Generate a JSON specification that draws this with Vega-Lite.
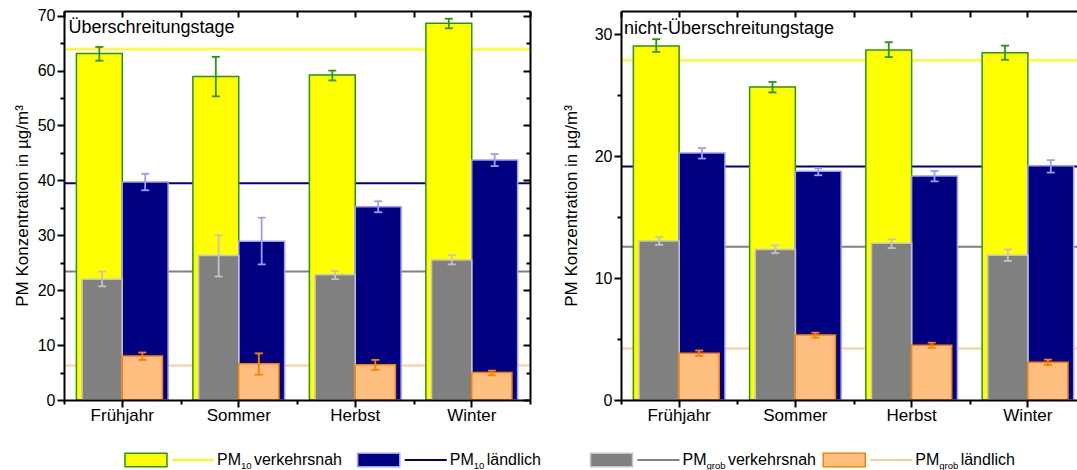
{
  "$schema": "https://vega.github.io/schema/vega-lite/v6.json",
  "background": "white",
  "padding": {"left": 13, "top": 7, "right": -8, "bottom": -1},
  "datasets": {
    "left": [
      {"season": "Frühjahr", "series": "PM10 verkehrsnah", "group": "PM10", "value": 63.1, "lo": 61.8, "hi": 64.3},
      {"season": "Frühjahr", "series": "PM10 ländlich", "group": "PM10", "value": 39.7, "lo": 38.2, "hi": 41.2},
      {"season": "Frühjahr", "series": "PMgrob verkehrsnah", "group": "PMgrob", "value": 22.0, "lo": 20.7, "hi": 23.4},
      {"season": "Frühjahr", "series": "PMgrob ländlich", "group": "PMgrob", "value": 8.0, "lo": 7.3, "hi": 8.65},
      {"season": "Sommer", "series": "PM10 verkehrsnah", "group": "PM10", "value": 58.9, "lo": 55.3, "hi": 62.5},
      {"season": "Sommer", "series": "PM10 ländlich", "group": "PM10", "value": 28.9, "lo": 24.7, "hi": 33.2},
      {"season": "Sommer", "series": "PMgrob verkehrsnah", "group": "PMgrob", "value": 26.3, "lo": 22.5, "hi": 30.0},
      {"season": "Sommer", "series": "PMgrob ländlich", "group": "PMgrob", "value": 6.6, "lo": 4.6, "hi": 8.5},
      {"season": "Herbst", "series": "PM10 verkehrsnah", "group": "PM10", "value": 59.2, "lo": 58.2, "hi": 60.0},
      {"season": "Herbst", "series": "PM10 ländlich", "group": "PM10", "value": 35.2, "lo": 34.2, "hi": 36.2},
      {"season": "Herbst", "series": "PMgrob verkehrsnah", "group": "PMgrob", "value": 22.8, "lo": 22.0, "hi": 23.5},
      {"season": "Herbst", "series": "PMgrob ländlich", "group": "PMgrob", "value": 6.4, "lo": 5.5, "hi": 7.3},
      {"season": "Winter", "series": "PM10 verkehrsnah", "group": "PM10", "value": 68.6, "lo": 67.7, "hi": 69.45},
      {"season": "Winter", "series": "PM10 ländlich", "group": "PM10", "value": 43.7, "lo": 42.6, "hi": 44.8},
      {"season": "Winter", "series": "PMgrob verkehrsnah", "group": "PMgrob", "value": 25.5, "lo": 24.7, "hi": 26.4},
      {"season": "Winter", "series": "PMgrob ländlich", "group": "PMgrob", "value": 5.0, "lo": 4.5, "hi": 5.35}
    ],
    "leftLines": [
      {"series": "PM10 verkehrsnah", "value": 63.9},
      {"series": "PM10 ländlich", "value": 39.5},
      {"series": "PMgrob verkehrsnah", "value": 23.4},
      {"series": "PMgrob ländlich", "value": 6.3}
    ],
    "right": [
      {"season": "Frühjahr", "series": "PM10 verkehrsnah", "group": "PM10", "value": 29.03, "lo": 28.54, "hi": 29.59},
      {"season": "Frühjahr", "series": "PM10 ländlich", "group": "PM10", "value": 20.25, "lo": 19.8, "hi": 20.66},
      {"season": "Frühjahr", "series": "PMgrob verkehrsnah", "group": "PMgrob", "value": 13.04, "lo": 12.73, "hi": 13.37},
      {"season": "Frühjahr", "series": "PMgrob ländlich", "group": "PMgrob", "value": 3.84, "lo": 3.62, "hi": 4.06},
      {"season": "Sommer", "series": "PM10 verkehrsnah", "group": "PM10", "value": 25.66, "lo": 25.22, "hi": 26.08},
      {"season": "Sommer", "series": "PM10 ländlich", "group": "PM10", "value": 18.76, "lo": 18.43, "hi": 19.0},
      {"season": "Sommer", "series": "PMgrob verkehrsnah", "group": "PMgrob", "value": 12.35, "lo": 12.04, "hi": 12.68},
      {"season": "Sommer", "series": "PMgrob ländlich", "group": "PMgrob", "value": 5.33, "lo": 5.11, "hi": 5.52},
      {"season": "Herbst", "series": "PM10 verkehrsnah", "group": "PM10", "value": 28.7, "lo": 28.12, "hi": 29.34},
      {"season": "Herbst", "series": "PM10 ländlich", "group": "PM10", "value": 18.37, "lo": 17.93, "hi": 18.78},
      {"season": "Herbst", "series": "PMgrob verkehrsnah", "group": "PMgrob", "value": 12.85, "lo": 12.46, "hi": 13.18},
      {"season": "Herbst", "series": "PMgrob ländlich", "group": "PMgrob", "value": 4.5, "lo": 4.28, "hi": 4.7},
      {"season": "Winter", "series": "PM10 verkehrsnah", "group": "PM10", "value": 28.48, "lo": 27.9, "hi": 29.06},
      {"season": "Winter", "series": "PM10 ländlich", "group": "PM10", "value": 19.2, "lo": 18.65, "hi": 19.67},
      {"season": "Winter", "series": "PMgrob verkehrsnah", "group": "PMgrob", "value": 11.88, "lo": 11.41, "hi": 12.35},
      {"season": "Winter", "series": "PMgrob ländlich", "group": "PMgrob", "value": 3.09, "lo": 2.87, "hi": 3.31}
    ],
    "rightLines": [
      {"series": "PM10 verkehrsnah", "value": 27.87},
      {"series": "PM10 ländlich", "value": 19.14},
      {"series": "PMgrob verkehrsnah", "value": 12.57},
      {"series": "PMgrob ländlich", "value": 4.23}
    ],
    "legend": [
      {"series": "PM10 verkehrsnah", "pre": "PM", "sub": "10", "rest": "verkehrsnah"},
      {"series": "PM10 ländlich", "pre": "PM", "sub": "10", "rest": "ländlich"},
      {"series": "PMgrob verkehrsnah", "pre": "PM", "sub": "grob", "rest": "verkehrsnah"},
      {"series": "PMgrob ländlich", "pre": "PM", "sub": "grob", "rest": "ländlich"}
    ]
  },
  "vconcat": [
    {
      "hconcat": [
        {
          "width": 466,
          "height": 389,
          "title": {"text": "Überschreitungstage", "anchor": "start", "frame": "group", "offset": -29, "dx": 4.5, "fontSize": 18, "fontWeight": "normal", "font": "Liberation Sans", "color": "#000"},
          "data": {"name": "left"},
          "resolve": {"scale": {"xOffset": "independent"}, "axis": {"x": "independent", "y": "independent"}},
          "layer": [
            {
              "data": {"name": "leftLines"},
              "mark": {"type": "rule", "strokeWidth": 2},
              "encoding": {
                "y": {"field": "value", "type": "quantitative", "scale": {"domain": [0, 70.85], "nice": false}, "axis": null},
                "color": {"field": "series", "type": "nominal", "scale": {"domain": ["PM10 verkehrsnah", "PM10 ländlich", "PMgrob verkehrsnah", "PMgrob ländlich"], "range": ["#ffff00", "#000080", "#808080", "#ffcc99"]}, "legend": null}
              }
            },
            {
              "transform": [{"filter": "datum.group == 'PM10'"}],
              "mark": {"type": "bar", "strokeWidth": 1.5},
              "encoding": {
                "x": {"field": "season", "type": "nominal", "scale": {"domain": ["Frühjahr", "Sommer", "Herbst", "Winter"], "paddingInner": 0, "paddingOuter": 0}, "axis": {"orient": "bottom", "title": null, "labelAngle": 0, "labelFontSize": 17, "tickSize": 7, "labelPadding": 0, "zindex": 1}},
                "xOffset": {"field": "series", "type": "nominal", "scale": {"domain": ["PM10 verkehrsnah", "PM10 ländlich"], "paddingInner": 0, "paddingOuter": 0.27}},
                "y": {"field": "value", "type": "quantitative", "scale": {"domain": [0, 70.85], "nice": false}, "axis": {"orient": "left", "values": [0, 10, 20, 30, 40, 50, 60, 70], "tickSize": 7, "labelPadding": 2, "title": "PM Konzentration in µg/m³", "titlePadding": 6, "zindex": 1}},
                "fill": {"field": "series", "type": "nominal", "scale": {"domain": ["PM10 verkehrsnah", "PM10 ländlich", "PMgrob verkehrsnah", "PMgrob ländlich"], "range": ["#ffff00", "#000080", "#808080", "#ffbf80"]}, "legend": null},
                "stroke": {"field": "series", "type": "nominal", "scale": {"domain": ["PM10 verkehrsnah", "PM10 ländlich", "PMgrob verkehrsnah", "PMgrob ländlich"], "range": ["#2a9414", "#9d9dff", "#c4c4c4", "#ff8000"]}, "legend": null}
              }
            },
            {
              "transform": [{"filter": "datum.group == 'PM10'"}],
              "mark": {"type": "rule", "strokeWidth": 1.8},
              "encoding": {
                "x": {"field": "season", "type": "nominal", "scale": {"domain": ["Frühjahr", "Sommer", "Herbst", "Winter"], "paddingInner": 0, "paddingOuter": 0}, "axis": {"orient": "bottom", "title": null, "labels": false, "domain": false, "tickBand": "extent", "tickSize": 4, "zindex": 1}},
                "xOffset": {"field": "series", "type": "nominal", "scale": {"domain": ["PM10 verkehrsnah", "PM10 ländlich"], "paddingInner": 0, "paddingOuter": 0.27}},
                "y": {"field": "lo", "type": "quantitative", "scale": {"domain": [0, 70.85], "nice": false}, "axis": {"orient": "left", "values": [5, 15, 25, 35, 45, 55, 65], "tickSize": 4, "labels": false, "domain": false, "title": null, "zindex": 1}},
                "y2": {"field": "hi"},
                "stroke": {"field": "series", "type": "nominal", "legend": null}
              }
            },
            {
              "transform": [{"filter": "datum.series == 'PM10 verkehrsnah'"}, {"fold": ["lo", "hi"], "as": ["end", "v"]}],
              "mark": {"type": "point", "shape": "M-1,0L1,0", "size": 64, "filled": false, "strokeWidth": 1.8, "opacity": 1},
              "encoding": {
                "x": {"field": "season", "type": "nominal", "bandPosition": 0.3033, "scale": {"domain": ["Frühjahr", "Sommer", "Herbst", "Winter"], "paddingInner": 0, "paddingOuter": 0}, "axis": {"orient": "top", "title": null, "labels": false, "tickSize": -6, "zindex": 1}},
                "y": {"field": "v", "type": "quantitative", "scale": {"domain": [0, 70.85], "nice": false}, "axis": {"orient": "right", "values": [0, 10, 20, 30, 40, 50, 60, 70], "tickSize": -7, "labels": false, "title": null, "zindex": 1}},
                "stroke": {"field": "series", "type": "nominal", "legend": null}
              }
            },
            {
              "transform": [{"filter": "datum.series == 'PM10 ländlich'"}, {"fold": ["lo", "hi"], "as": ["end", "v"]}],
              "mark": {"type": "point", "shape": "M-1,0L1,0", "size": 64, "filled": false, "strokeWidth": 1.8, "opacity": 1},
              "encoding": {
                "x": {"field": "season", "type": "nominal", "bandPosition": 0.6967, "scale": {"domain": ["Frühjahr", "Sommer", "Herbst", "Winter"], "paddingInner": 0, "paddingOuter": 0}, "axis": {"orient": "top", "title": null, "labels": false, "domain": false, "tickBand": "extent", "tickSize": -6, "zindex": 1}},
                "y": {"field": "v", "type": "quantitative", "scale": {"domain": [0, 70.85], "nice": false}, "axis": {"orient": "right", "values": [5, 15, 25, 35, 45, 55, 65], "tickSize": -4, "labels": false, "domain": false, "title": null, "zindex": 1}},
                "stroke": {"field": "series", "type": "nominal", "legend": null}
              }
            },
            {
              "transform": [{"filter": "datum.group == 'PMgrob'"}],
              "mark": {"type": "bar", "strokeWidth": 1.5},
              "encoding": {
                "x": {"field": "season", "type": "nominal", "scale": {"domain": ["Frühjahr", "Sommer", "Herbst", "Winter"], "paddingInner": 0, "paddingOuter": 0}, "axis": null},
                "xOffset": {"field": "series", "type": "nominal", "scale": {"domain": ["PMgrob verkehrsnah", "PMgrob ländlich"], "paddingInner": 0, "paddingOuter": 0.45}},
                "y": {"field": "value", "type": "quantitative", "scale": {"domain": [0, 70.85], "nice": false}, "axis": null},
                "fill": {"field": "series", "type": "nominal", "legend": null},
                "stroke": {"field": "series", "type": "nominal", "legend": null}
              }
            },
            {
              "transform": [{"filter": "datum.group == 'PMgrob'"}],
              "mark": {"type": "rule", "strokeWidth": 1.8},
              "encoding": {
                "x": {"field": "season", "type": "nominal", "scale": {"domain": ["Frühjahr", "Sommer", "Herbst", "Winter"], "paddingInner": 0, "paddingOuter": 0}, "axis": null},
                "xOffset": {"field": "series", "type": "nominal", "scale": {"domain": ["PMgrob verkehrsnah", "PMgrob ländlich"], "paddingInner": 0, "paddingOuter": 0.45}},
                "y": {"field": "lo", "type": "quantitative", "scale": {"domain": [0, 70.85], "nice": false}, "axis": null},
                "y2": {"field": "hi"},
                "stroke": {"field": "series", "type": "nominal", "legend": null}
              }
            },
            {
              "transform": [{"filter": "datum.series == 'PMgrob verkehrsnah'"}, {"fold": ["lo", "hi"], "as": ["end", "v"]}],
              "mark": {"type": "point", "shape": "M-1,0L1,0", "size": 64, "filled": false, "strokeWidth": 1.8, "opacity": 1},
              "encoding": {
                "x": {"field": "season", "type": "nominal", "bandPosition": 0.3276, "scale": {"domain": ["Frühjahr", "Sommer", "Herbst", "Winter"], "paddingInner": 0, "paddingOuter": 0}, "axis": null},
                "y": {"field": "v", "type": "quantitative", "scale": {"domain": [0, 70.85], "nice": false}, "axis": null},
                "stroke": {"field": "series", "type": "nominal", "legend": null}
              }
            },
            {
              "transform": [{"filter": "datum.series == 'PMgrob ländlich'"}, {"fold": ["lo", "hi"], "as": ["end", "v"]}],
              "mark": {"type": "point", "shape": "M-1,0L1,0", "size": 64, "filled": false, "strokeWidth": 1.8, "opacity": 1},
              "encoding": {
                "x": {"field": "season", "type": "nominal", "bandPosition": 0.6724, "scale": {"domain": ["Frühjahr", "Sommer", "Herbst", "Winter"], "paddingInner": 0, "paddingOuter": 0}, "axis": null},
                "y": {"field": "v", "type": "quantitative", "scale": {"domain": [0, 70.85], "nice": false}, "axis": null},
                "stroke": {"field": "series", "type": "nominal", "legend": null}
              }
            }
          ]
        },
        {
          "width": 465,
          "height": 389,
          "title": {"text": "nicht-Überschreitungstage", "anchor": "start", "frame": "group", "offset": -28, "dx": 3, "fontSize": 18, "fontWeight": "normal", "font": "Liberation Sans", "color": "#000"},
          "data": {"name": "right"},
          "resolve": {"scale": {"xOffset": "independent"}, "axis": {"x": "independent", "y": "independent"}},
          "layer": [
            {
              "data": {"name": "rightLines"},
              "mark": {"type": "rule", "strokeWidth": 2},
              "encoding": {
                "y": {"field": "value", "type": "quantitative", "scale": {"domain": [0, 31.9], "nice": false}, "axis": null},
                "color": {"field": "series", "type": "nominal", "legend": null}
              }
            },
            {
              "transform": [{"filter": "datum.group == 'PM10'"}],
              "mark": {"type": "bar", "strokeWidth": 1.5},
              "encoding": {
                "x": {"field": "season", "type": "nominal", "scale": {"domain": ["Frühjahr", "Sommer", "Herbst", "Winter"], "paddingInner": 0, "paddingOuter": 0}, "axis": {"orient": "bottom", "title": null, "labelAngle": 0, "labelFontSize": 17, "tickSize": 7, "labelPadding": 0, "zindex": 1}},
                "xOffset": {"field": "series", "type": "nominal", "scale": {"domain": ["PM10 verkehrsnah", "PM10 ländlich"], "paddingInner": 0, "paddingOuter": 0.27}},
                "y": {"field": "value", "type": "quantitative", "scale": {"domain": [0, 31.9], "nice": false}, "axis": {"orient": "left", "values": [0, 10, 20, 30], "tickSize": 7, "labelPadding": 2, "title": "PM Konzentration in µg/m³", "titlePadding": 14, "zindex": 1}},
                "fill": {"field": "series", "type": "nominal", "legend": null},
                "stroke": {"field": "series", "type": "nominal", "legend": null}
              }
            },
            {
              "transform": [{"filter": "datum.group == 'PM10'"}],
              "mark": {"type": "rule", "strokeWidth": 1.8},
              "encoding": {
                "x": {"field": "season", "type": "nominal", "scale": {"domain": ["Frühjahr", "Sommer", "Herbst", "Winter"], "paddingInner": 0, "paddingOuter": 0}, "axis": {"orient": "bottom", "title": null, "labels": false, "domain": false, "tickBand": "extent", "tickSize": 4, "zindex": 1}},
                "xOffset": {"field": "series", "type": "nominal", "scale": {"domain": ["PM10 verkehrsnah", "PM10 ländlich"], "paddingInner": 0, "paddingOuter": 0.27}},
                "y": {"field": "lo", "type": "quantitative", "scale": {"domain": [0, 31.9], "nice": false}, "axis": {"orient": "left", "values": [5, 15, 25], "tickSize": 4, "labels": false, "domain": false, "title": null, "zindex": 1}},
                "y2": {"field": "hi"},
                "stroke": {"field": "series", "type": "nominal", "legend": null}
              }
            },
            {
              "transform": [{"filter": "datum.series == 'PM10 verkehrsnah'"}, {"fold": ["lo", "hi"], "as": ["end", "v"]}],
              "mark": {"type": "point", "shape": "M-1,0L1,0", "size": 64, "filled": false, "strokeWidth": 1.8, "opacity": 1},
              "encoding": {
                "x": {"field": "season", "type": "nominal", "bandPosition": 0.3031, "scale": {"domain": ["Frühjahr", "Sommer", "Herbst", "Winter"], "paddingInner": 0, "paddingOuter": 0}, "axis": {"orient": "top", "title": null, "labels": false, "tickSize": -6, "zindex": 1}},
                "y": {"field": "v", "type": "quantitative", "scale": {"domain": [0, 31.9], "nice": false}, "axis": {"orient": "right", "values": [0, 10, 20, 30], "tickSize": -7, "labels": false, "title": null, "zindex": 1}},
                "stroke": {"field": "series", "type": "nominal", "legend": null}
              }
            },
            {
              "transform": [{"filter": "datum.series == 'PM10 ländlich'"}, {"fold": ["lo", "hi"], "as": ["end", "v"]}],
              "mark": {"type": "point", "shape": "M-1,0L1,0", "size": 64, "filled": false, "strokeWidth": 1.8, "opacity": 1},
              "encoding": {
                "x": {"field": "season", "type": "nominal", "bandPosition": 0.6969, "scale": {"domain": ["Frühjahr", "Sommer", "Herbst", "Winter"], "paddingInner": 0, "paddingOuter": 0}, "axis": {"orient": "top", "title": null, "labels": false, "domain": false, "tickBand": "extent", "tickSize": -6, "zindex": 1}},
                "y": {"field": "v", "type": "quantitative", "scale": {"domain": [0, 31.9], "nice": false}, "axis": {"orient": "right", "values": [5, 15, 25], "tickSize": -4, "labels": false, "domain": false, "title": null, "zindex": 1}},
                "stroke": {"field": "series", "type": "nominal", "legend": null}
              }
            },
            {
              "transform": [{"filter": "datum.group == 'PMgrob'"}],
              "mark": {"type": "bar", "strokeWidth": 1.5},
              "encoding": {
                "x": {"field": "season", "type": "nominal", "scale": {"domain": ["Frühjahr", "Sommer", "Herbst", "Winter"], "paddingInner": 0, "paddingOuter": 0}, "axis": null},
                "xOffset": {"field": "series", "type": "nominal", "scale": {"domain": ["PMgrob verkehrsnah", "PMgrob ländlich"], "paddingInner": 0, "paddingOuter": 0.45}},
                "y": {"field": "value", "type": "quantitative", "scale": {"domain": [0, 31.9], "nice": false}, "axis": null},
                "fill": {"field": "series", "type": "nominal", "legend": null},
                "stroke": {"field": "series", "type": "nominal", "legend": null}
              }
            },
            {
              "transform": [{"filter": "datum.group == 'PMgrob'"}],
              "mark": {"type": "rule", "strokeWidth": 1.8},
              "encoding": {
                "x": {"field": "season", "type": "nominal", "scale": {"domain": ["Frühjahr", "Sommer", "Herbst", "Winter"], "paddingInner": 0, "paddingOuter": 0}, "axis": null},
                "xOffset": {"field": "series", "type": "nominal", "scale": {"domain": ["PMgrob verkehrsnah", "PMgrob ländlich"], "paddingInner": 0, "paddingOuter": 0.45}},
                "y": {"field": "lo", "type": "quantitative", "scale": {"domain": [0, 31.9], "nice": false}, "axis": null},
                "y2": {"field": "hi"},
                "stroke": {"field": "series", "type": "nominal", "legend": null}
              }
            },
            {
              "transform": [{"filter": "datum.series == 'PMgrob verkehrsnah'"}, {"fold": ["lo", "hi"], "as": ["end", "v"]}],
              "mark": {"type": "point", "shape": "M-1,0L1,0", "size": 64, "filled": false, "strokeWidth": 1.8, "opacity": 1},
              "encoding": {
                "x": {"field": "season", "type": "nominal", "bandPosition": 0.3276, "scale": {"domain": ["Frühjahr", "Sommer", "Herbst", "Winter"], "paddingInner": 0, "paddingOuter": 0}, "axis": null},
                "y": {"field": "v", "type": "quantitative", "scale": {"domain": [0, 31.9], "nice": false}, "axis": null},
                "stroke": {"field": "series", "type": "nominal", "legend": null}
              }
            },
            {
              "transform": [{"filter": "datum.series == 'PMgrob ländlich'"}, {"fold": ["lo", "hi"], "as": ["end", "v"]}],
              "mark": {"type": "point", "shape": "M-1,0L1,0", "size": 64, "filled": false, "strokeWidth": 1.8, "opacity": 1},
              "encoding": {
                "x": {"field": "season", "type": "nominal", "bandPosition": 0.6724, "scale": {"domain": ["Frühjahr", "Sommer", "Herbst", "Winter"], "paddingInner": 0, "paddingOuter": 0}, "axis": null},
                "y": {"field": "v", "type": "quantitative", "scale": {"domain": [0, 31.9], "nice": false}, "axis": null},
                "stroke": {"field": "series", "type": "nominal", "legend": null}
              }
            }
          ]
        }
      ],
      "spacing": 31
    },
    {
      "width": 1000,
      "height": 20,
      "data": {"name": "legend"},
      "encoding": {
        "x": {"field": "series", "type": "nominal", "scale": {"domain": ["PM10 verkehrsnah", "PM10 ländlich", "PMgrob verkehrsnah", "PMgrob ländlich"], "range": [61, 992], "paddingInner": 0, "paddingOuter": 0}, "axis": null}
      },
      "layer": [
        {
          "mark": {"type": "point", "shape": "M-1,-0.32L1,-0.32L1,0.32L-1,0.32Z", "size": 1764, "filled": true, "opacity": 1, "strokeWidth": 1.5, "xOffset": -95.4},
          "encoding": {
            "fill": {"field": "series", "type": "nominal", "legend": null},
            "stroke": {"field": "series", "type": "nominal", "legend": null}
          }
        },
        {
          "mark": {"type": "point", "shape": "M-1,0L1,0", "size": 1764, "filled": false, "opacity": 1, "strokeWidth": 2, "xOffset": -48.4},
          "encoding": {
            "color": {"field": "series", "type": "nominal", "legend": null}
          }
        },
        {
          "mark": {"type": "text", "align": "left", "baseline": "middle", "fontSize": 16, "font": "Liberation Sans", "color": "#000", "xOffset": -24.4},
          "encoding": {"text": {"field": "pre"}}
        },
        {
          "mark": {"type": "text", "align": "left", "baseline": "middle", "fontSize": 9.5, "font": "Liberation Sans", "color": "#000", "xOffset": -0.4, "yOffset": 6},
          "encoding": {"text": {"field": "sub"}}
        },
        {
          "transform": [{"filter": "datum.sub == '10'"}],
          "mark": {"type": "text", "align": "left", "baseline": "middle", "fontSize": 16, "font": "Liberation Sans", "color": "#000", "xOffset": 12.6},
          "encoding": {"text": {"field": "rest"}}
        },
        {
          "transform": [{"filter": "datum.sub == 'grob'"}],
          "mark": {"type": "text", "align": "left", "baseline": "middle", "fontSize": 16, "font": "Liberation Sans", "color": "#000", "xOffset": 21},
          "encoding": {"text": {"field": "rest"}}
        }
      ]
    }
  ],
  "spacing": 27,
  "config": {
    "view": {"stroke": null},
    "font": "Liberation Sans",
    "axis": {
      "labelFont": "Liberation Sans",
      "titleFont": "Liberation Sans",
      "labelColor": "#000",
      "titleColor": "#000",
      "domainColor": "#000",
      "tickColor": "#000",
      "domainWidth": 2,
      "tickWidth": 2,
      "grid": false,
      "labelFontSize": 16,
      "titleFontSize": 17,
      "titleFontWeight": "normal"
    }
  }
}
